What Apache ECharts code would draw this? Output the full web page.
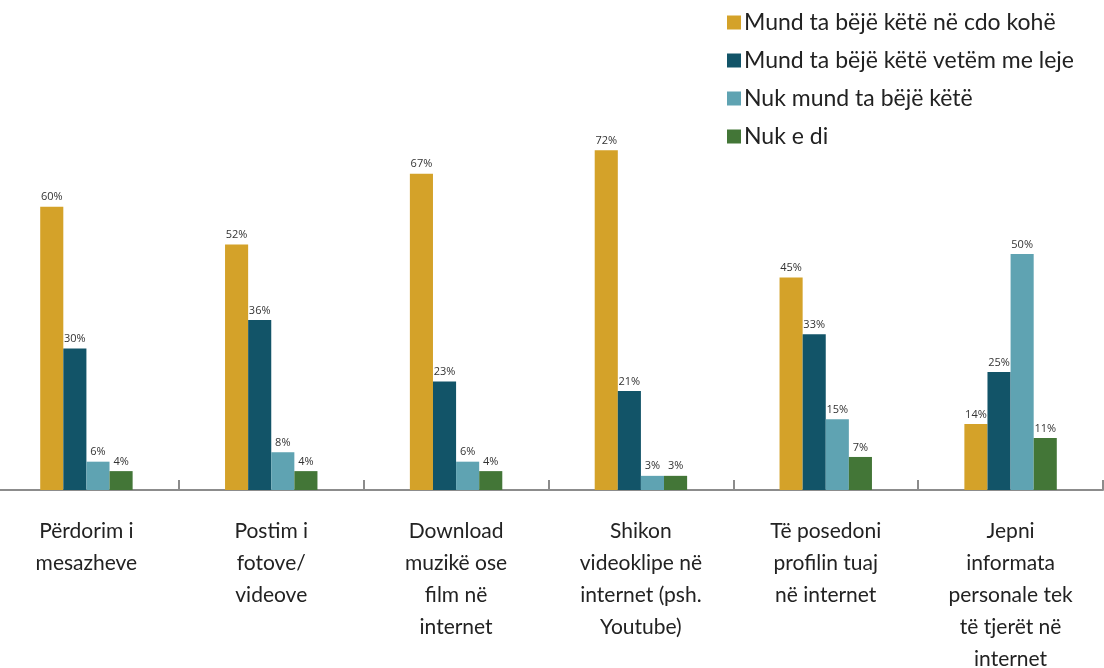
<!DOCTYPE html>
<html>
<head>
<meta charset="utf-8">
<script src="https://cdn.jsdelivr.net/npm/echarts@6/dist/echarts.min.js"></script>
<style>
  html, body { margin: 0; padding: 0; background: #fff; }
  #chart { width: 1104px; height: 668px; }
</style>
</head>
<body>
<div id="chart"></div>
<script>
// kategorite
const categories = [
    'Përdorim i\nmesazheve',
    'Postim i\nfotove/\nvideove',
    'Download\nmuzikë ose\nfilm në\ninternet',
    'Shikon\nvideoklipe në\ninternet (psh.\nYoutube)',
    'Të posedoni\nprofilin tuaj\nnë internet',
    'Jepni\ninformata\npersonale tek\ntë tjerët në\ninternet'
];
const seriesNames = [
    'Mund ta bëjë këtë në cdo kohë',
    'Mund ta bëjë këtë vetëm me leje',
    'Nuk mund ta bëjë këtë',
    'Nuk e di'
];
const cdoKohe = [60, 52, 67, 72, 45, 14];
const meLeje = [30, 36, 23, 21, 33, 25];
const nukMund = [6, 8, 6, 3, 15, 50];
const nukDi = [4, 4, 4, 3, 7, 11];
const colors = ['#D4A229', '#125468', '#5FA3B2', '#437637'];

const chart = echarts.init(document.getElementById('chart'));
const makeSeries = (name, data, i) => ({
    name,
    type: 'bar',
    data,
    barGap: 0,
    barCategoryGap: '50%',
    itemStyle: { color: colors[i] },
    label: {
        show: true,
        position: 'top',
        distance: 4,
        formatter: '{c}%',
        fontFamily: 'Open Sans',
        fontSize: 11,
        color: '#333'
    }
});
chart.setOption({
    animation: false,
    color: colors,
    legend: {
        orient: 'vertical',
        left: 722,
        top: 6,
        itemWidth: 14,
        itemHeight: 14,
        itemGap: 15,
        icon: 'rect',
        textStyle: { fontFamily: 'Lato', fontSize: 23, color: '#222', padding: [0, 0, 0, -2] },
        data: seriesNames
    },
    grid: { left: -6, right: 1, top: 18, bottom: 178, outerBoundsMode: 'none', containLabel: false },
    xAxis: {
        type: 'category',
        data: categories,
        axisLine: { lineStyle: { color: '#8c8c8c', width: 2 } },
        axisTick: { show: true, interval: 0, inside: true, length: 10, lineStyle: { color: '#8c8c8c', width: 2 } },
        axisLabel: {
            interval: 0,
            margin: 25,
            fontFamily: 'Lato',
            fontSize: 21,
            lineHeight: 32,
            color: '#222',
            align: 'center'
        }
    },
    yAxis: {
        type: 'value',
        min: 0,
        max: 100,
        show: false
    },
    series: [
        makeSeries(seriesNames[0], cdoKohe, 0),
        makeSeries(seriesNames[1], meLeje, 1),
        makeSeries(seriesNames[2], nukMund, 2),
        makeSeries(seriesNames[3], nukDi, 3)
    ]
});
</script>
</body>
</html>
